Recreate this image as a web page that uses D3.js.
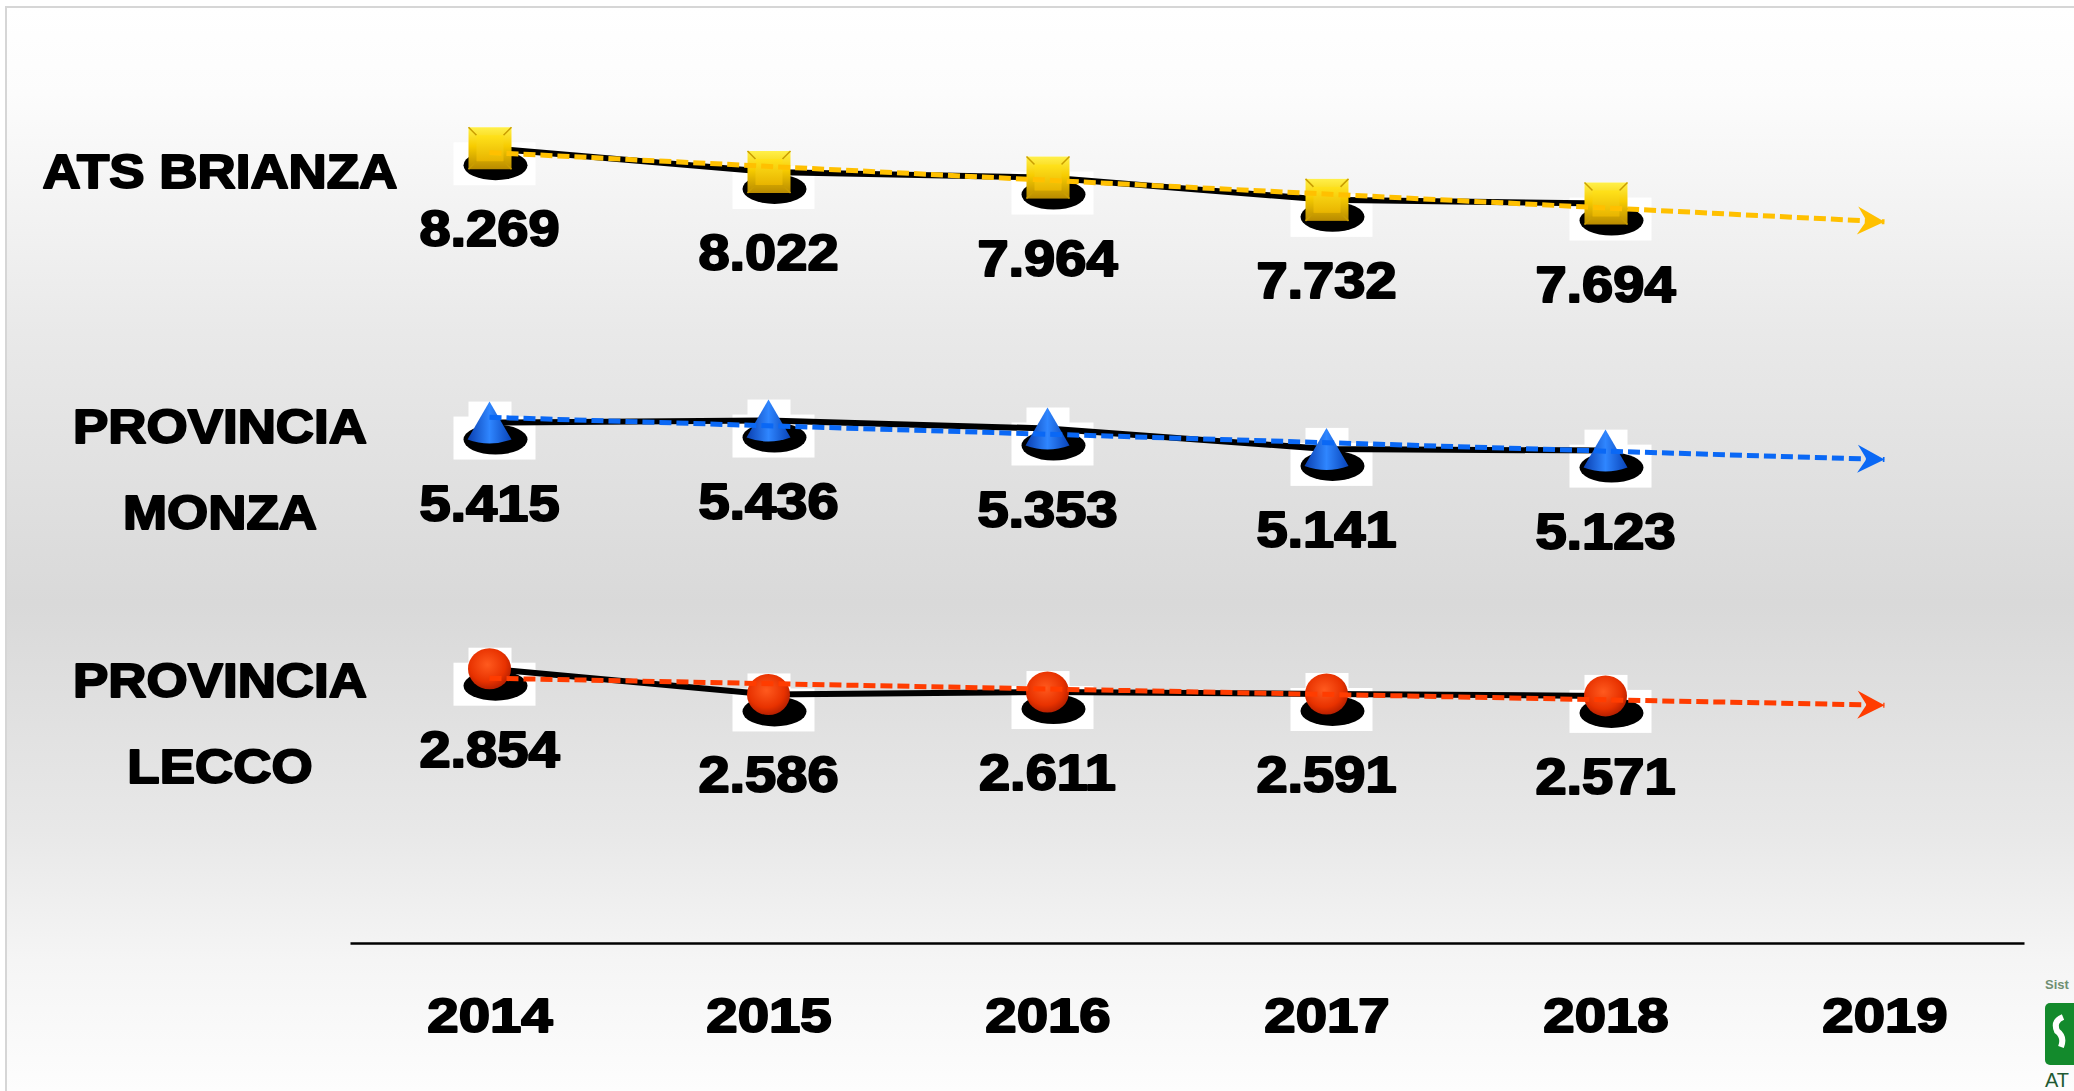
<!DOCTYPE html>
<html>
<head>
<meta charset="utf-8">
<script src="https://cdn.jsdelivr.net/npm/d3@7"></script>
<style>
  html, body { margin: 0; padding: 0; background: #fff; overflow: hidden; }
  svg { display: block; }
</style>
</head>
<body>
<div id="chart-container"></div>
<script>
const chartWidth = 2074;
const chartHeight = 1091;

// Years on the axis (2019 only carries the trend arrows).
const years = ["2014", "2015", "2016", "2017", "2018", "2019"];
const dataYears = ["2014", "2015", "2016", "2017", "2018"];

// Values per area.
const atsBrianza = [8269, 8022, 7964, 7732, 7694];
const provinciaMonza = [5415, 5436, 5353, 5141, 5123];
const provinciaLecco = [2854, 2586, 2611, 2591, 2571];

// Row labels (one or two lines).
const rowLabels = [["ATS BRIANZA"], ["PROVINCIA", "MONZA"], ["PROVINCIA", "LECCO"]];

const series = [
    { values: atsBrianza, label: rowLabels[0], shape: "square", color: "#ffc000", labelDy: [22] },
    { values: provinciaMonza, label: rowLabels[1], shape: "cone", color: "#0a68f5", labelDy: [2, 88] },
    { values: provinciaLecco, label: rowLabels[2], shape: "ball", color: "#ff3c00", labelDy: [10, 96] }
];

// Italian number format: 8.269
const it = d3.formatLocale({ decimal: ",", thousands: ".", grouping: [3], currency: ["€", ""] });
const fmt = it.format(",d");

const svg = d3.select("#chart-container")
    .append("svg")
    .attr("width", chartWidth)
    .attr("height", chartHeight);

const defs = svg.append("defs");

// Slide background gradient.
const bg = defs.append("linearGradient")
    .attr("id", "bg")
    .attr("gradientUnits", "userSpaceOnUse")
    .attr("x1", 0).attr("y1", 7).attr("x2", 0).attr("y2", chartHeight);
[[0, "#ffffff"], [0.08, "#fcfcfc"], [0.3, "#e9e9e9"], [0.55, "#d9d9d9"], [0.76, "#e8e8e8"], [0.88, "#f5f5f5"], [1, "#fdfdfd"]]
    .forEach(([o, c]) => bg.append("stop").attr("offset", o).attr("stop-color", c));

// Marker gradients.
const gold = defs.append("linearGradient").attr("id", "gold").attr("x1", 0).attr("y1", 0).attr("x2", 0).attr("y2", 1);
[[0, "#fff04a"], [0.45, "#f7cc00"], [1, "#b88a00"]].forEach(([o, c]) => gold.append("stop").attr("offset", o).attr("stop-color", c));
const goldIn = defs.append("linearGradient").attr("id", "goldIn").attr("x1", 0).attr("y1", 0).attr("x2", 0).attr("y2", 1);
[[0, "#ffe21a"], [1, "#e8b400"]].forEach(([o, c]) => goldIn.append("stop").attr("offset", o).attr("stop-color", c));
const blue = defs.append("linearGradient").attr("id", "blue").attr("x1", 0).attr("y1", 0).attr("x2", 1).attr("y2", 0);
[[0, "#0a3fb0"], [0.5, "#2f86ff"], [1, "#0843b8"]].forEach(([o, c]) => blue.append("stop").attr("offset", o).attr("stop-color", c));
const red = defs.append("radialGradient").attr("id", "red").attr("cx", 0.45).attr("cy", 0.4).attr("r", 0.6);
[[0, "#ff5a1e"], [0.7, "#e83200"], [1, "#b82000"]].forEach(([o, c]) => red.append("stop").attr("offset", o).attr("stop-color", c));

// Arrow heads for the trend lines.
series.forEach((s, i) => {
    defs.append("marker")
        .attr("id", "arrow" + i)
        .attr("markerUnits", "userSpaceOnUse")
        .attr("viewBox", "-30 -16 32 32")
        .attr("markerWidth", 32).attr("markerHeight", 32)
        .attr("refX", 0).attr("refY", 0)
        .attr("orient", "auto")
        .append("path")
        .attr("d", "M0,0 L-27,-14 L-18,0 L-27,14 Z")
        .attr("fill", s.color);
});

svg.append("rect").attr("width", chartWidth).attr("height", chartHeight).attr("fill", "#fff");
svg.append("rect")
    .attr("x", 6).attr("y", 7)
    .attr("width", chartWidth).attr("height", chartHeight)
    .attr("fill", "url(#bg)")
    .attr("stroke", "#d6d6d6")
    .attr("stroke-width", 2);

// Scales.
const x = d3.scalePoint().domain(years).range([350, 2024]).padding(0.5);
const y = d3.scaleLinear().domain([0, 9000]).range([943, 78]);

const font = "'Liberation Sans', Arial, sans-serif";

function heavyText(sel, size, stretch) {
    sel.attr("font-family", font)
        .attr("font-weight", "bold")
        .attr("font-size", size)
        .attr("fill", "#000")
        .attr("stroke", "#000")
        .attr("stroke-width", 2)
        .attr("stroke-linejoin", "round")
        .each(function () {
            const w = this.getComputedTextLength();
            d3.select(this).attr("textLength", w * stretch).attr("lengthAdjust", "spacingAndGlyphs");
        });
}

// X axis.
const xAxis = svg.append("g")
    .attr("transform", "translate(0," + y(0) + ")")
    .call(d3.axisBottom(x).tickSize(0).tickSizeOuter(0).tickPadding(54));
xAxis.select(".domain").attr("stroke", "#000").attr("stroke-width", 2.5);
xAxis.selectAll(".tick text").call(heavyText, 49, 1.15);

// Linear trend (least squares over the year index), extended to 2019.
function linearFit(values) {
    const mx = d3.mean(values, (d, i) => i);
    const my = d3.mean(values);
    const sxy = d3.sum(values, (d, i) => (i - mx) * (d - my));
    const sxx = d3.sum(values, (d, i) => (i - mx) * (i - mx));
    const slope = sxy / sxx;
    return (i) => my + slope * (i - mx);
}

const layers = {
    back: svg.append("g"),
    line: svg.append("g"),
    shape: svg.append("g"),
    trend: svg.append("g"),
    text: svg.append("g")
};

series.forEach((s, si) => {
    const pts = s.values.map((v, i) => ({ year: dataYears[i], value: v }));

    // White picture boxes and drop shadows behind the markers.
    const back = layers.back.selectAll(null).data(pts).enter().append("g")
        .attr("transform", (d) => `translate(${x(d.year)},${y(d.value)})`);
    back.append("rect").attr("x", -21).attr("y", -21).attr("width", 43).attr("height", 42).attr("fill", "#fff");
    back.append("rect").attr("x", -36).attr("y", -6).attr("width", 82).attr("height", 43).attr("fill", "#fff");
    back.append("ellipse").attr("cx", 6).attr("cy", 17).attr("rx", 32).attr("ry", 15).attr("fill", "#000");

    // Solid black data line.
    layers.line.append("path")
        .datum(pts)
        .attr("fill", "none")
        .attr("stroke", "#000")
        .attr("stroke-width", 6)
        .attr("stroke-linejoin", "round")
        .attr("d", d3.line().x((d) => x(d.year)).y((d) => y(d.value)));

    // Markers.
    const m = layers.shape.selectAll(null).data(pts).enter().append("g")
        .attr("transform", (d) => `translate(${x(d.year)},${y(d.value)})`);
    if (s.shape === "square") {
        m.append("rect").attr("x", -21).attr("y", -21).attr("width", 43).attr("height", 42).attr("fill", "url(#gold)");
        m.append("path").attr("d", "M-21,-21 L-13,-13 M22,-21 L14,-13 M-21,21 L-13,13 M22,21 L14,13")
            .attr("stroke", "#c99d00").attr("stroke-width", 1.5);
        m.append("rect").attr("x", -13).attr("y", -13).attr("width", 27).attr("height", 26).attr("fill", "url(#goldIn)");
    } else if (s.shape === "cone") {
        m.append("path").attr("d", "M0,-21 L22,17 Q0,25 -22,17 Z").attr("fill", "url(#blue)");
    } else {
        m.append("ellipse").attr("rx", 21.5).attr("ry", 20.5).attr("fill", "url(#red)");
    }

    // Dashed trend line with arrow.
    const fit = linearFit(s.values);
    const trend = [0, years.length - 1].map((i) => ({ year: years[i], value: fit(i) }));
    layers.trend.append("path")
        .datum(trend)
        .attr("fill", "none")
        .attr("stroke", s.color)
        .attr("stroke-width", 5)
        .attr("stroke-dasharray", "12 5")
        .attr("marker-end", `url(#arrow${si})`)
        .attr("d", d3.line().x((d) => x(d.year)).y((d) => y(d.value)));

    // Value labels.
    layers.text.selectAll(null).data(pts).enter().append("text")
        .attr("x", (d) => x(d.year))
        .attr("y", (d) => y(d.value) + 98)
        .attr("text-anchor", "middle")
        .text((d) => fmt(d.value))
        .call(heavyText, 50, 1.12);

    // Row label.
    layers.text.selectAll(null).data(s.label).enter().append("text")
        .attr("x", 220)
        .attr("y", (d, i) => y(s.values[0]) + s.labelDy[i] + 18)
        .attr("text-anchor", "middle")
        .text((d) => d)
        .call(heavyText, 49, 1.08);
});

// Partial logo at the bottom right edge.
const logo = svg.append("g").attr("transform", "translate(2045,975)");
logo.append("text").attr("x", 0).attr("y", 14).attr("font-family", font).attr("font-size", 13)
    .attr("font-weight", "bold").attr("fill", "#6f8f72").text("Sist");
logo.append("rect").attr("x", 0).attr("y", 28).attr("width", 40).attr("height", 62).attr("rx", 5).attr("fill", "#138a2c");
logo.append("path").attr("d", "M18,42 Q8,46 12,56 Q20,62 16,72").attr("fill", "none").attr("stroke", "#fff").attr("stroke-width", 6);
logo.append("text").attr("x", 0).attr("y", 112).attr("font-family", font).attr("font-size", 20)
    .attr("fill", "#1f5a33").text("AT");
</script>
</body>
</html>
